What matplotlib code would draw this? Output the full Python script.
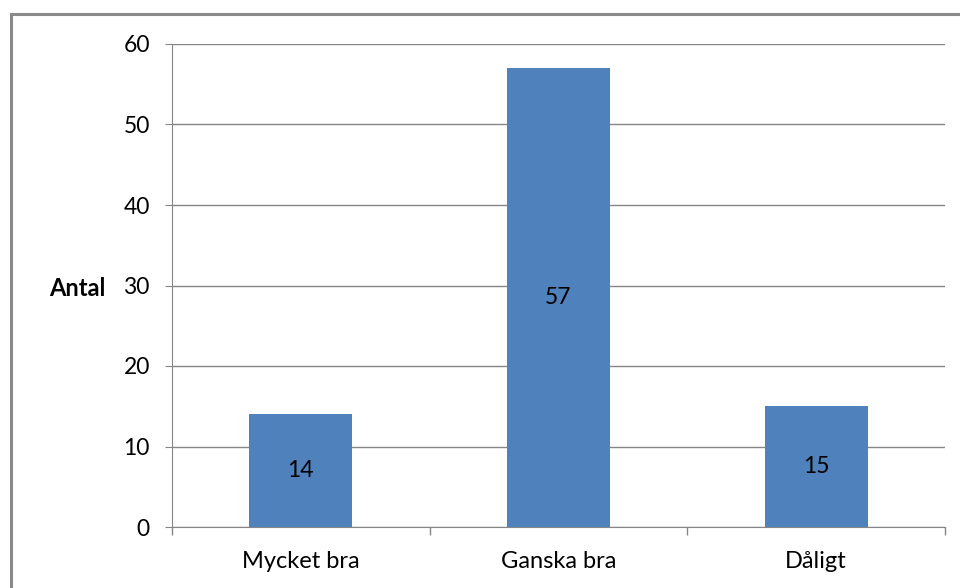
import matplotlib.pyplot as plt
from matplotlib.patches import Rectangle

kategorier = ["Mycket bra", "Ganska bra", "Dåligt"]
antal = [14, 57, 15]
y_ticks = [0, 10, 20, 30, 40, 50, 60]

plt.rcParams['font.family'] = ['Lato', 'DejaVu Sans']

fig = plt.figure(figsize=(9.6, 5.88), dpi=100)
ax = fig.add_axes([172/960, 1-527/588, (945-172)/960, (527-44)/588])

# ram runt diagrammet
fig.patches.append(Rectangle((10.5/960, -0.2), 2, 1.2 - 14/588, transform=fig.transFigure,
                             fill=False, edgecolor="#8a8a8a", linewidth=2.2))

x = range(len(kategorier))
ax.bar(x, antal, width=0.4, color="#4F81BD", zorder=3)
for i, v in enumerate(antal):
    ax.text(i, v/2, str(v), ha="center", va="center", fontsize=16.5, color="black", zorder=4)

ax.set_xlim(-0.5, len(kategorier)-0.5)
ax.set_ylim(0, 60)
ax.set_yticks(y_ticks)
ax.set_xticks(list(x))
ax.set_xticklabels(kategorier, fontsize=17)
ax.tick_params(axis="x", length=0, pad=17)
ax.set_xticks([-0.5, 0.5, 1.5, 2.5], minor=True)
ax.tick_params(axis="x", which="minor", length=5.5, color="#868686", width=1)
ax.tick_params(axis="y", labelsize=16.5, length=5, color="#868686", pad=11)
ax.yaxis.grid(True, color="#868686", linewidth=1, zorder=0)

for s in ["top", "right"]:
    ax.spines[s].set_visible(False)
ax.spines["left"].set_color("#868686")
ax.spines["bottom"].set_color("#868686")

fig.text(77/960, 1-288/588, "Antal", fontsize=17, fontweight="bold", ha="center", va="center")

fig.savefig("out.png", dpi=100)
